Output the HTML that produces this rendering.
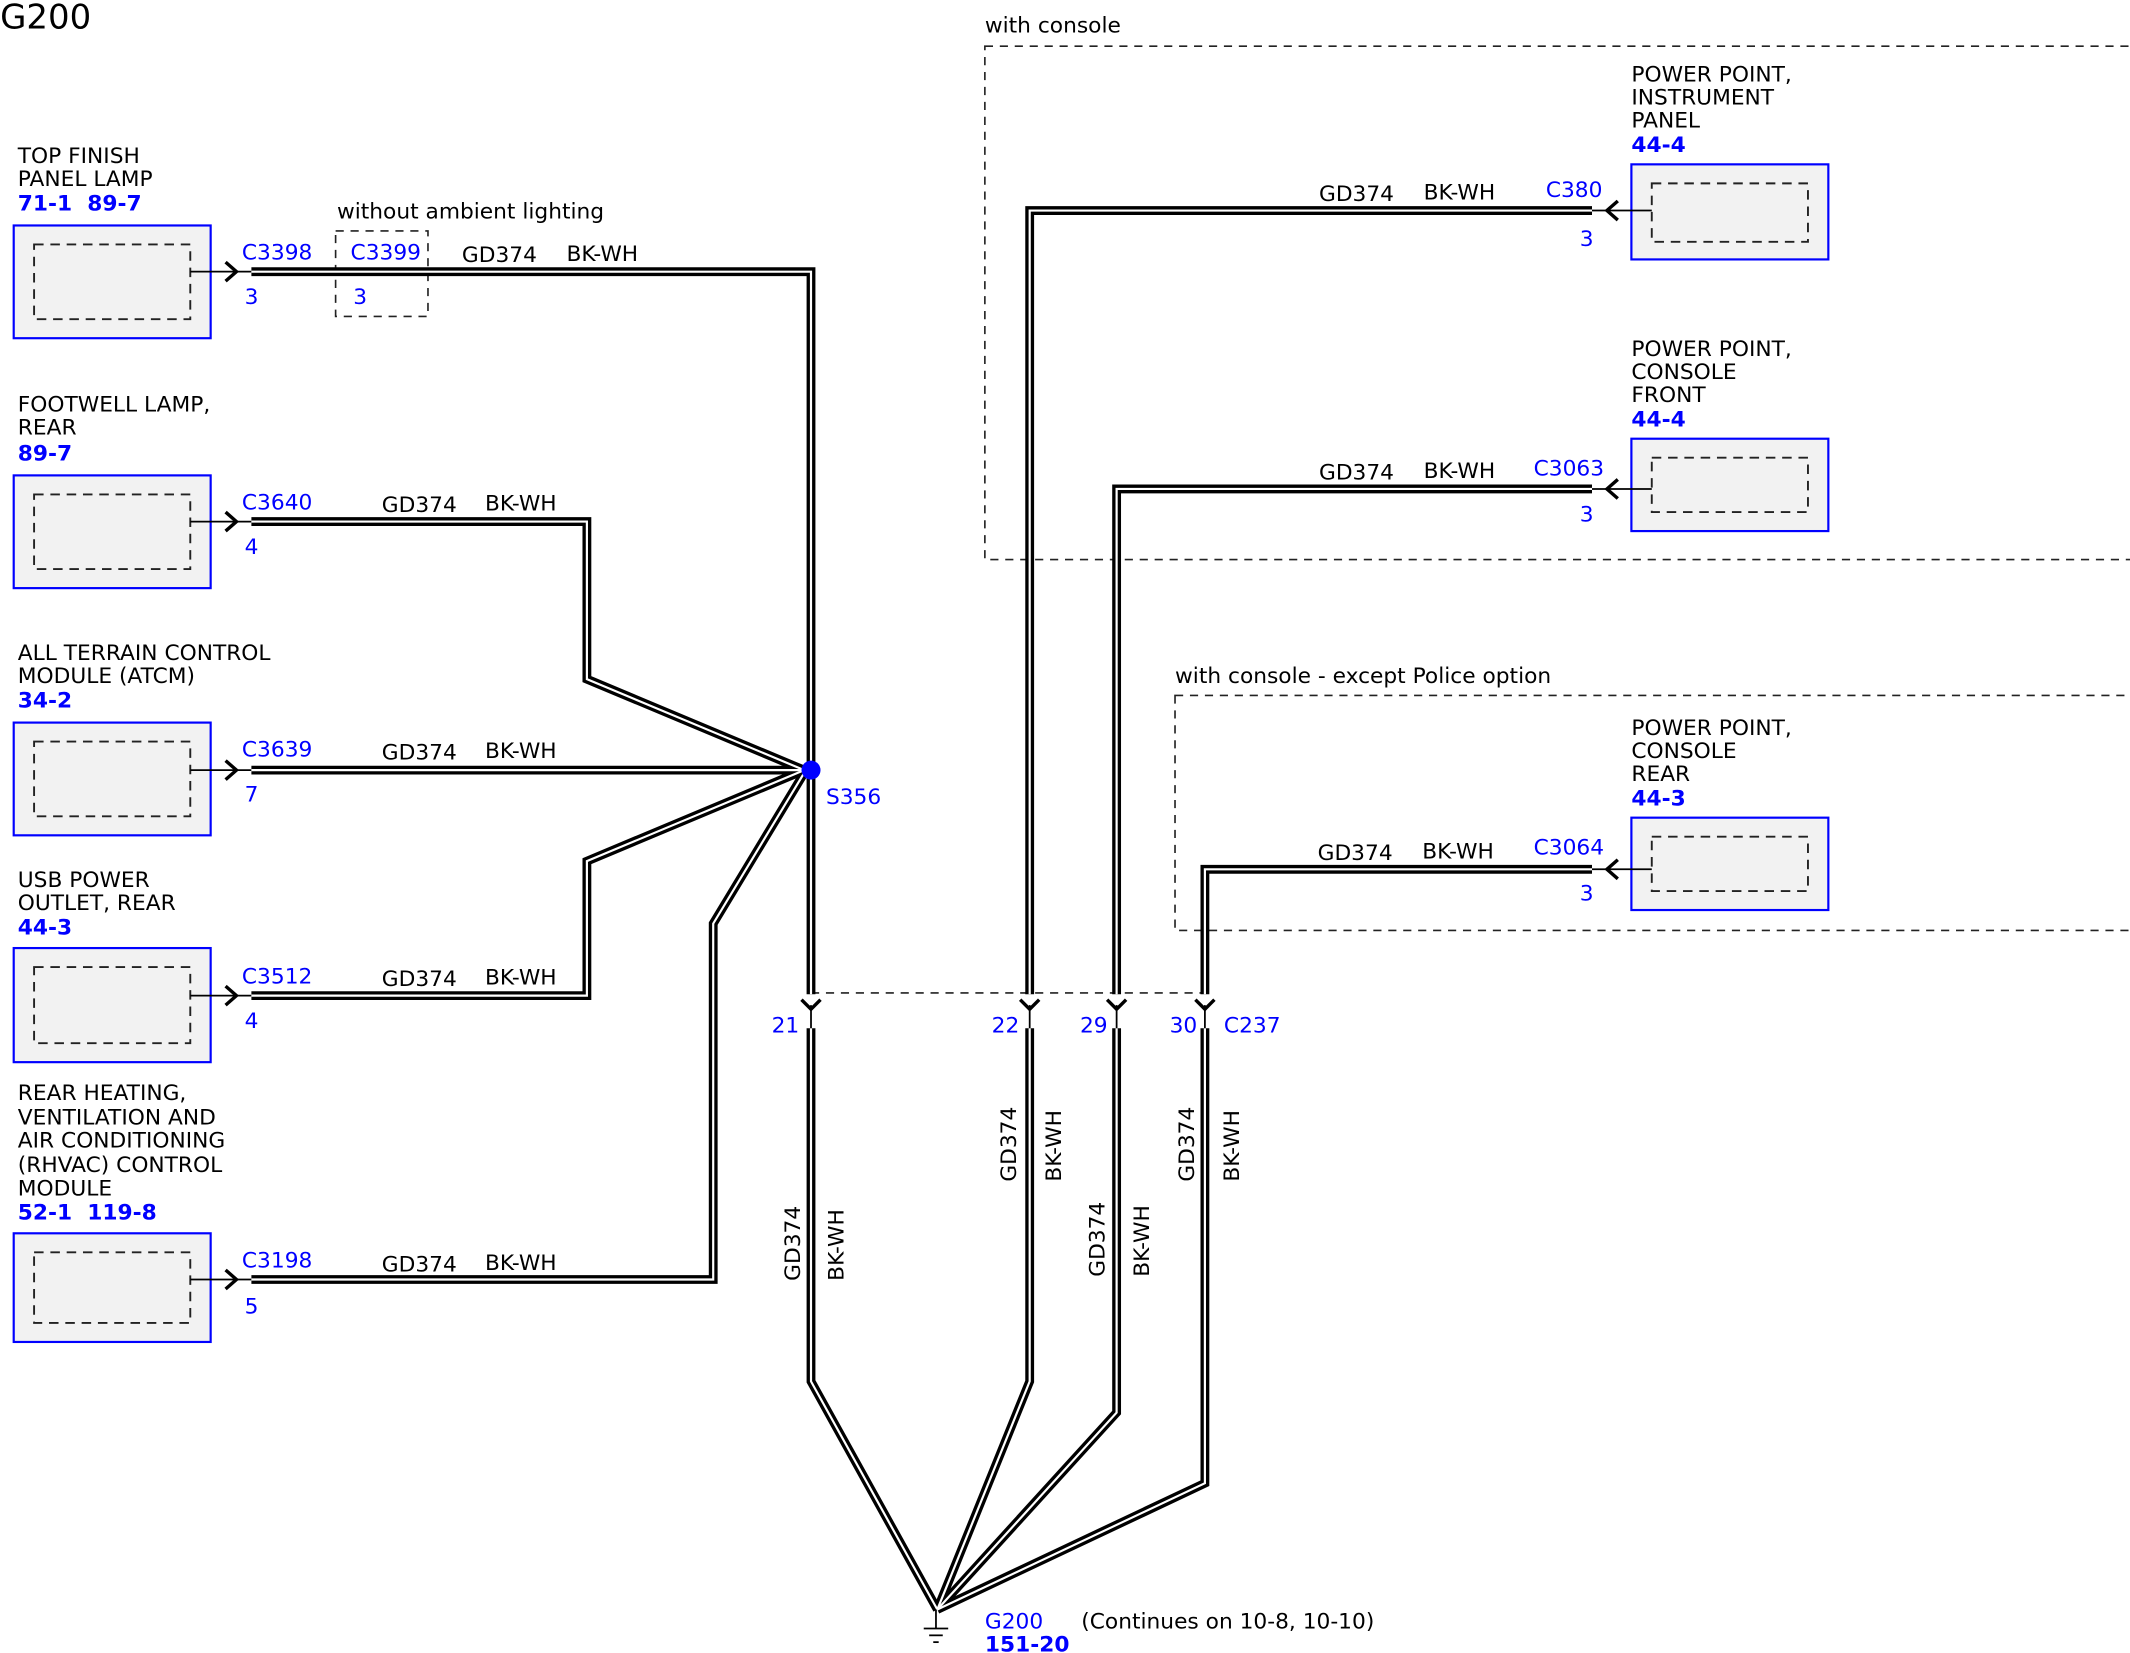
<!DOCTYPE html>
<html><head><meta charset="utf-8"><style>
html,body{margin:0;padding:0;background:#fff}
svg{display:block}
text{font-family:"DejaVu Sans","Liberation Sans",sans-serif;font-size:16px}
.b{fill:#0000ff}
.bb{fill:#0000ff;font-weight:bold}
</style></head><body>
<svg width="2130" height="1653" viewBox="0 0 1568 1217" xmlns="http://www.w3.org/2000/svg">
<defs>
<g id="box"><rect x="0" y="0" width="145" height="83" fill="#f2f2f2" stroke="#0000ff" stroke-width="1.6"/></g>
</defs>
<text x="0" y="21" style="font-size:25px">G200</text>

<!-- dashed regions -->
<g fill="none" stroke="#222" stroke-width="1.2" stroke-dasharray="6,5">
<rect x="725" y="34" width="850" height="378"/>
<rect x="865" y="512" width="710" height="173"/>
<rect x="247" y="170" width="68" height="63"/>
<line x1="597" y1="731" x2="888" y2="731"/>
</g>
<text x="725" y="24">with console</text>
<text x="865" y="503">with console - except Police option</text>
<text x="248" y="161">without ambient lighting</text>

<!-- left boxes -->
<g fill="#f2f2f2" stroke="#0000ff" stroke-width="1.6">
<rect x="10" y="166" width="145" height="83"/>
<rect x="10" y="350" width="145" height="83"/>
<rect x="10" y="532" width="145" height="83"/>
<rect x="10" y="698" width="145" height="84"/>
<rect x="10" y="908" width="145" height="80"/>
<rect x="1201" y="121" width="145" height="70"/>
<rect x="1201" y="323" width="145" height="68"/>
<rect x="1201" y="602" width="145" height="68"/>
</g>
<g fill="none" stroke="#222" stroke-width="1.4" stroke-dasharray="7,5">
<rect x="25" y="180" width="115" height="55"/>
<rect x="25" y="364" width="115" height="55"/>
<rect x="25" y="546" width="115" height="55"/>
<rect x="25" y="712" width="115" height="56"/>
<rect x="25" y="922" width="115" height="52"/>
<rect x="1216" y="135" width="115" height="43"/>
<rect x="1216" y="337" width="115" height="40"/>
<rect x="1216" y="616" width="115" height="40"/>
</g>

<!-- stubs and arrows -->
<g fill="none" stroke="#000" stroke-width="1.3">
<path d="M140 200H185M140 384H185M140 567H185M140 733H185M140 942H185"/>
<path d="M1172 155H1216M1172 360H1216M1172 640H1216"/>
</g>
<g fill="none" stroke="#000" stroke-width="2.5">
<path d="M166 193L174 200L166 207M166 377L174 384L166 391M166 560L174 567L166 574M166 726L174 733L166 740M166 935L174 942L166 949"/>
<path d="M1191 148L1183 155L1191 162M1191 353L1183 360L1191 367M1191 633L1183 640L1191 647"/>
<path d="M590 736L597 743L604 736M751 736L758 743L765 736M815 736L822 743L829 736M880 736L887 743L894 736"/>
</g>

<!-- wires -->
<g fill="none" stroke="#000" stroke-width="6.5" stroke-linejoin="miter">
<path id="w1" d="M185 200H597V567"/>
<path d="M185 384H432V500L592 567"/>
<path d="M185 567H592"/>
<path d="M185 733H432V634L592 567"/>
<path d="M185 942H525V680L592 569"/>
<path d="M597 567V732"/>
<path d="M1172 155H758V732"/>
<path d="M1172 360H822V732"/>
<path d="M1172 640H887V732"/>
<path d="M597 757V1017L690 1185"/>
<path d="M758 757V1017L690 1185"/>
<path d="M822 757V1040L690 1185"/>
<path d="M887 757V1092L690 1185"/>
</g>
<g fill="none" stroke="#fff" stroke-width="1.6" stroke-linejoin="miter">
<path d="M185 200H597V567"/>
<path d="M185 384H432V500L592 567"/>
<path d="M185 567H592"/>
<path d="M185 733H432V634L592 567"/>
<path d="M185 942H525V680L592 569"/>
<path d="M597 567V732"/>
<path d="M1172 155H758V732"/>
<path d="M1172 360H822V732"/>
<path d="M1172 640H887V732"/>
<path d="M597 757V1017L690 1185"/>
<path d="M758 757V1017L690 1185"/>
<path d="M822 757V1040L690 1185"/>
<path d="M887 757V1092L690 1185"/>
</g>
<g stroke="#000" stroke-width="1.3">
<line x1="597" y1="740" x2="597" y2="757"/><line x1="758" y1="740" x2="758" y2="757"/>
<line x1="822" y1="740" x2="822" y2="757"/><line x1="887" y1="740" x2="887" y2="757"/>
<line x1="689" y1="1185" x2="689" y2="1199"/>
<line x1="680" y1="1199" x2="698" y2="1199"/>
<line x1="684" y1="1204" x2="694" y2="1204"/>
<line x1="687" y1="1209" x2="691" y2="1209"/>
</g>
<circle cx="597" cy="567" r="7" fill="#0000ff"/>

<!-- left labels -->
<text x="13" y="120">TOP FINISH</text><text x="13" y="137">PANEL LAMP</text>
<text x="13" y="155" class="bb">71-1&#160;&#160;89-7</text>
<text x="13" y="303">FOOTWELL LAMP,</text><text x="13" y="320">REAR</text>
<text x="13" y="339" class="bb">89-7</text>
<text x="13" y="486">ALL TERRAIN CONTROL</text><text x="13" y="503">MODULE (ATCM)</text>
<text x="13" y="521" class="bb">34-2</text>
<text x="13" y="653">USB POWER</text><text x="13" y="670">OUTLET, REAR</text>
<text x="13" y="688" class="bb">44-3</text>
<text x="13" y="810">REAR HEATING,</text><text x="13" y="828">VENTILATION AND</text>
<text x="13" y="845">AIR CONDITIONING</text><text x="13" y="863">(RHVAC) CONTROL</text>
<text x="13" y="880">MODULE</text>
<text x="13" y="898" class="bb">52-1&#160;&#160;119-8</text>

<text x="178" y="191" class="b">C3398</text><text x="180" y="224" class="b">3</text>
<text x="258" y="191" class="b">C3399</text><text x="260" y="224" class="b">3</text>
<text x="340" y="193">GD374</text><text x="417" y="192">BK-WH</text>
<text x="178" y="375" class="b">C3640</text><text x="180" y="408" class="b">4</text>
<text x="281" y="377">GD374</text><text x="357" y="376">BK-WH</text>
<text x="178" y="557" class="b">C3639</text><text x="180" y="590" class="b">7</text>
<text x="281" y="559">GD374</text><text x="357" y="558">BK-WH</text>
<text x="178" y="724" class="b">C3512</text><text x="180" y="757" class="b">4</text>
<text x="281" y="726">GD374</text><text x="357" y="725">BK-WH</text>
<text x="178" y="933" class="b">C3198</text><text x="180" y="967" class="b">5</text>
<text x="281" y="936">GD374</text><text x="357" y="935">BK-WH</text>
<text x="608" y="592" class="b">S356</text>

<!-- right labels -->
<text x="1201" y="60">POWER POINT,</text><text x="1201" y="77">INSTRUMENT</text><text x="1201" y="94">PANEL</text>
<text x="1201" y="112" class="bb">44-4</text>
<text x="1201" y="262">POWER POINT,</text><text x="1201" y="279">CONSOLE</text><text x="1201" y="296">FRONT</text>
<text x="1201" y="314" class="bb">44-4</text>
<text x="1201" y="541">POWER POINT,</text><text x="1201" y="558">CONSOLE</text><text x="1201" y="575">REAR</text>
<text x="1201" y="593" class="bb">44-3</text>
<text x="1138" y="145" class="b">C380</text><text x="1163" y="181" class="b">3</text>
<text x="1129" y="350" class="b">C3063</text><text x="1163" y="384" class="b">3</text>
<text x="1129" y="629" class="b">C3064</text><text x="1163" y="663" class="b">3</text>
<text x="971" y="148">GD374</text><text x="1048" y="147">BK-WH</text>
<text x="971" y="353">GD374</text><text x="1048" y="352">BK-WH</text>
<text x="970" y="633">GD374</text><text x="1047" y="632">BK-WH</text>

<text x="568" y="760" class="b">21</text>
<text x="730" y="760" class="b">22</text>
<text x="795" y="760" class="b">29</text>
<text x="861" y="760" class="b">30</text>
<text x="901" y="760" class="b">C237</text>

<text transform="translate(589,943) rotate(-90)">GD374</text>
<text transform="translate(621,943) rotate(-90)">BK-WH</text>
<text transform="translate(748,870) rotate(-90)">GD374</text>
<text transform="translate(781,870) rotate(-90)">BK-WH</text>
<text transform="translate(813,940) rotate(-90)">GD374</text>
<text transform="translate(846,940) rotate(-90)">BK-WH</text>
<text transform="translate(879,870) rotate(-90)">GD374</text>
<text transform="translate(912,870) rotate(-90)">BK-WH</text>

<text x="725" y="1199" class="b">G200</text>
<text x="725" y="1216" class="bb">151-20</text>
<text x="796" y="1199">(Continues on 10-8, 10-10)</text>
</svg>
</body></html>
